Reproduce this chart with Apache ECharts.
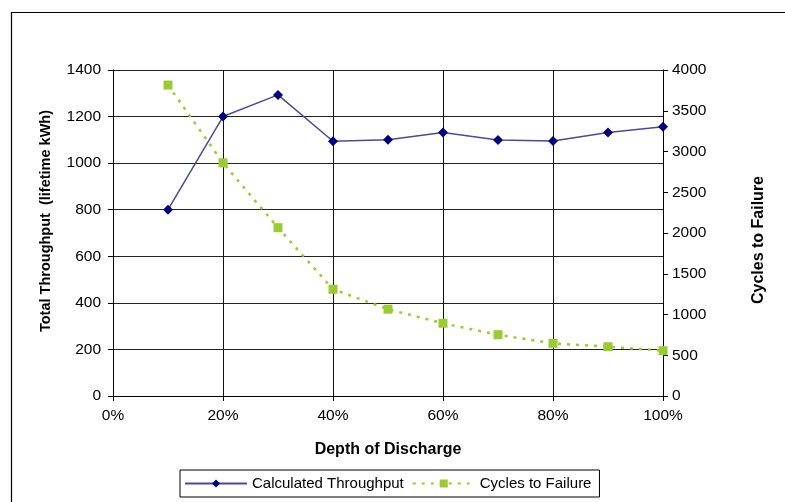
<!DOCTYPE html>
<html><head><meta charset="utf-8">
<script src="https://cdn.jsdelivr.net/npm/echarts@6/dist/echarts.min.js"></script>
<style>html,body{margin:0;padding:0;background:#fff}#c{width:785px;height:502px}</style>
</head><body><div id="c"></div>
<script>
const depth = [10, 20, 30, 40, 50, 60, 70, 80, 90, 100];
const throughput = [800, 1200, 1293, 1094, 1100, 1132, 1099, 1095, 1132, 1156];
const cycles = [3815, 2860, 2065, 1310, 1065, 892, 752, 646, 605, 556];
const seriesNames = ['Calculated Throughput', 'Cycles to Failure'];

const font = 'Liberation Sans, Arial, sans-serif';
const chart = echarts.init(document.getElementById('c'));
chart.setOption({
  animation: false,
  graphic: [{type: 'rect', left: 9, top: 10, shape: {width: 800, height: 520},
    style: {fill: 'none', stroke: '#000', lineWidth: 1.2}, z: -1}],
  grid: {left: 113, right: 122, top: 70, bottom: 106},
  legend: {
    bottom: 5, left: 180, data: seriesNames,
    borderColor: '#000', borderWidth: 1, padding: [6, 8, 6, 4], itemGap: 8,
    itemWidth: 62, itemHeight: 10,
    textStyle: {fontFamily: font, fontSize: 15, color: '#000'}
  },
  xAxis: {
    type: 'value', min: 0, max: 100, interval: 20,
    name: 'Depth of Discharge', nameLocation: 'middle', nameGap: 46,
    nameTextStyle: {fontFamily: font, fontSize: 16, fontWeight: 'bold', color: '#000'},
    axisLine: {lineStyle: {color: '#000', width: 1}},
    axisTick: {show: true, length: 5, lineStyle: {color: '#000'}},
    axisLabel: {formatter: '{value}%', fontFamily: font, fontSize: 15.5, color: '#000', margin: 12},
    splitLine: {show: true, lineStyle: {color: '#111', width: 1}}
  },
  yAxis: [{
    type: 'value', min: 0, max: 1400, interval: 200,
    name: 'Total Throughput  (lifetime kWh)', nameLocation: 'middle', nameGap: 60, nameRotate: 90,
    nameTextStyle: {fontFamily: font, fontSize: 14.5, fontWeight: 'bold', color: '#000', padding: [0, 0, 0, 24]},
    axisLine: {show: true, lineStyle: {color: '#000'}},
    axisTick: {show: true, length: 5, lineStyle: {color: '#000'}},
    axisLabel: {formatter: v => String(v), fontFamily: font, fontSize: 15.5, color: '#000', margin: 12},
    splitLine: {show: true, lineStyle: {color: '#222', width: 1}}
  }, {
    type: 'value', min: 0, max: 4000, interval: 500, position: 'right',
    name: 'Cycles to Failure', nameLocation: 'middle', nameGap: 88, nameRotate: 90,
    nameTextStyle: {fontFamily: font, fontSize: 16, fontWeight: 'bold', color: '#000', padding: [0, 14, 0, 0]},
    axisLine: {show: true, lineStyle: {color: '#000'}},
    axisTick: {show: true, length: 5, lineStyle: {color: '#000'}},
    axisLabel: {formatter: v => String(v), fontFamily: font, fontSize: 15.5, color: '#000', margin: 9},
    splitLine: {show: false}
  }],
  series: [{
    name: seriesNames[0], type: 'line', yAxisIndex: 0,
    data: depth.map((d, i) => [d, throughput[i]]),
    symbol: 'diamond', symbolSize: 10,
    lineStyle: {color: '#4a4a9a', width: 1.5},
    itemStyle: {color: '#000080'}, z: 3
  }, {
    name: seriesNames[1], type: 'line', yAxisIndex: 1,
    data: depth.map((d, i) => [d, cycles[i]]),
    symbol: 'rect', symbolSize: 9,
    lineStyle: {color: '#99cc33', width: 2.5, type: [3, 6]},
    itemStyle: {color: '#99cc33'}, z: 2
  }]
});
</script></body></html>
